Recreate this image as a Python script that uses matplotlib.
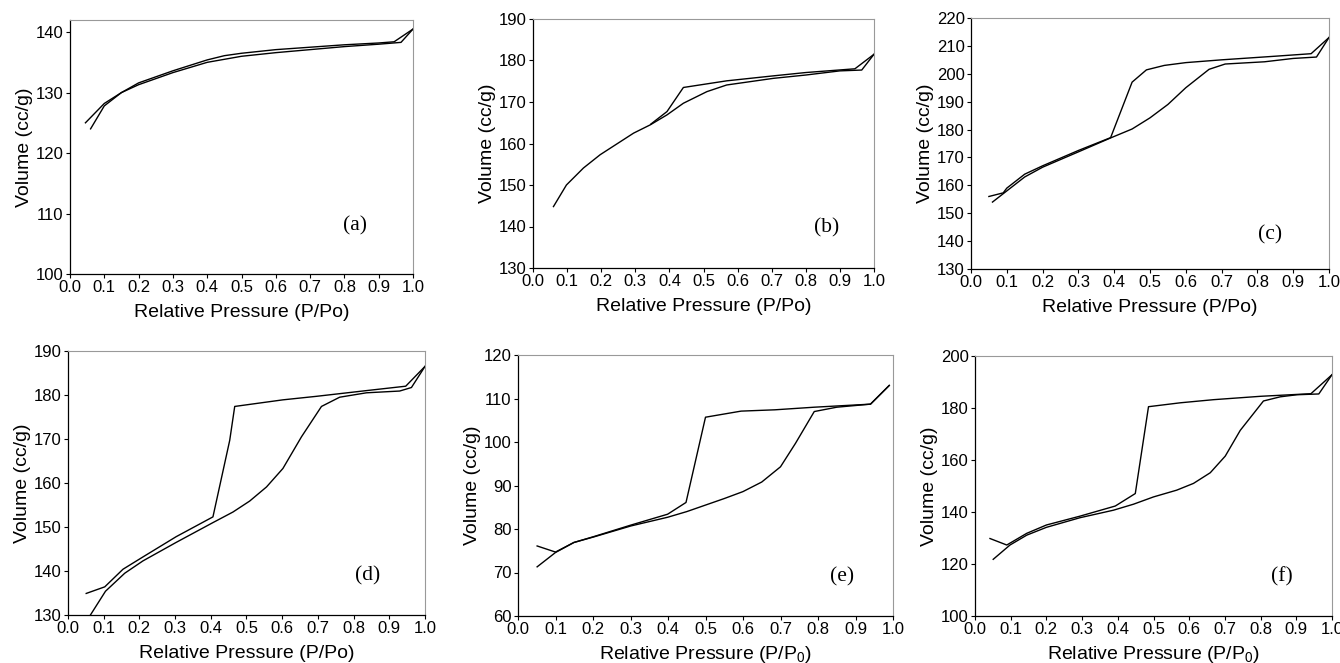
import matplotlib.pyplot as plt

plt.rcParams['font.family'] = ['Liberation Sans', 'DejaVu Sans']

# (a)
a_ads_x = [0.06, 0.1, 0.15, 0.2, 0.3, 0.4, 0.5, 0.6, 0.7, 0.8, 0.9, 0.965, 1.0]
a_ads_y = [124.0, 127.8, 130.0, 131.3, 133.3, 135.0, 136.0, 136.6, 137.1, 137.6, 138.0, 138.3, 140.5]
a_des_x = [1.0, 0.945, 0.9, 0.8, 0.7, 0.6, 0.5, 0.45, 0.4, 0.3, 0.2, 0.15, 0.1, 0.045]
a_des_y = [140.5, 138.4, 138.2, 137.9, 137.5, 137.1, 136.5, 136.1, 135.4, 133.6, 131.6, 130.0, 128.2, 125.0]

# (b)
b_ads_x = [0.06, 0.098, 0.148, 0.197, 0.295, 0.344, 0.393, 0.441, 0.51, 0.568, 0.705, 0.8, 0.9, 0.964, 1.0]
b_ads_y = [144.8, 150.0, 154.1, 157.3, 162.5, 164.5, 166.9, 169.7, 172.5, 174.1, 175.7, 176.5, 177.5, 177.7, 181.5]
b_des_x = [1.0, 0.944, 0.8, 0.705, 0.568, 0.441, 0.393, 0.346]
b_des_y = [181.5, 178.0, 177.1, 176.3, 175.1, 173.5, 167.7, 164.7]

# (c)
c_ads_x = [0.06, 0.1, 0.15, 0.2, 0.3, 0.39, 0.45, 0.5, 0.55, 0.6, 0.665, 0.71, 0.82, 0.9, 0.965, 1.0]
c_ads_y = [154.0, 158.0, 163.0, 166.5, 172.0, 177.0, 180.2, 184.2, 189.0, 195.0, 201.6, 203.5, 204.3, 205.5, 206.0, 213.0]
c_des_x = [1.0, 0.95, 0.85, 0.7, 0.6, 0.54, 0.49, 0.45, 0.39, 0.3, 0.2, 0.15, 0.1, 0.09, 0.05]
c_des_y = [213.0, 207.2, 206.3, 205.0, 204.0, 203.0, 201.4, 197.0, 177.1, 172.5, 167.0, 164.0, 159.0, 157.3, 156.0]

# (d)
d_ads_x = [0.055, 0.105, 0.159, 0.21, 0.303, 0.406, 0.462, 0.509, 0.556, 0.602, 0.654, 0.71, 0.761, 0.836, 0.929, 0.962, 1.0]
d_ads_y = [129.0, 135.4, 139.5, 142.3, 146.5, 151.0, 153.4, 155.9, 159.1, 163.3, 170.5, 177.4, 179.5, 180.5, 180.9, 181.7, 186.5]
d_des_x = [1.0, 0.946, 0.836, 0.696, 0.602, 0.467, 0.453, 0.406, 0.303, 0.21, 0.154, 0.103, 0.051]
d_des_y = [186.5, 182.0, 181.0, 179.7, 178.9, 177.4, 169.7, 152.3, 147.8, 143.2, 140.4, 136.4, 134.9]

# (e)
e_ads_x = [0.051, 0.1, 0.149, 0.203, 0.301, 0.399, 0.45, 0.5, 0.55, 0.6, 0.65, 0.7, 0.74, 0.79, 0.85, 0.94, 0.99]
e_ads_y = [71.3, 74.6, 76.9, 78.2, 80.7, 82.7, 84.0, 85.5, 87.0, 88.6, 90.8, 94.3, 99.7, 107.0, 108.0, 108.7, 113.0]
e_des_x = [0.99, 0.94, 0.79, 0.685, 0.595, 0.5, 0.448, 0.399, 0.301, 0.2, 0.149, 0.1, 0.051]
e_des_y = [113.0, 108.7, 108.0, 107.4, 107.1, 105.7, 86.1, 83.4, 80.9, 78.2, 76.9, 74.7, 76.1]

# (f)
f_ads_x = [0.051, 0.098, 0.145, 0.2, 0.294, 0.388, 0.444, 0.5, 0.565, 0.612, 0.659, 0.701, 0.743, 0.808, 0.855, 0.902, 0.963, 1.0]
f_ads_y = [121.8, 127.3, 131.1, 134.1, 137.8, 140.7, 143.0, 145.8, 148.4, 151.0, 155.1, 161.5, 171.4, 182.7, 184.3, 185.1, 185.4, 192.8]
f_des_x = [1.0, 0.941, 0.8, 0.668, 0.575, 0.486, 0.449, 0.393, 0.294, 0.2, 0.145, 0.089, 0.042]
f_des_y = [192.8, 185.5, 184.5, 183.2, 182.0, 180.5, 147.1, 142.3, 138.4, 135.0, 131.8, 127.3, 129.8]

panels = [
    ('(a)', a_ads_x, a_ads_y, a_des_x, a_des_y, (100, 142), range(100, 141, 10), 'P/Po'),
    ('(b)', b_ads_x, b_ads_y, b_des_x, b_des_y, (130, 190), range(130, 191, 10), 'P/Po'),
    ('(c)', c_ads_x, c_ads_y, c_des_x, c_des_y, (130, 220), range(130, 221, 10), 'P/Po'),
    ('(d)', d_ads_x, d_ads_y, d_des_x, d_des_y, (130, 190), range(130, 191, 10), 'P/Po'),
    ('(e)', e_ads_x, e_ads_y, e_des_x, e_des_y, (60, 120), range(60, 121, 10), 'P/P$_\\mathregular{0}$'),
    ('(f)', f_ads_x, f_ads_y, f_des_x, f_des_y, (100, 200), range(100, 201, 20), 'P/P$_\\mathregular{0}$'),
]

# axes boxes in pixels: left, top, right, bottom
boxes = [
    (70, 20, 413, 274),
    (533, 19, 874, 268),
    (971, 18, 1329, 269),
    (68, 351, 425, 615),
    (518, 355, 893, 616),
    (975, 356, 1332, 616),
]
label_pos = [(0.83, 0.19), (0.86, 0.16), (0.836, 0.135), (0.84, 0.15), (0.865, 0.15), (0.86, 0.15)]
xlabel_pad = [6.5, 6.5, 6.5, 6.5, 5, 5]

W, H = 1340, 663
fig = plt.figure(figsize=(W / 100, H / 100), dpi=100)

for (name, ax_, ay, dx, dy, ylim, yt, pp), (l, t, r, b), (lx, ly), xp in zip(
        panels, boxes, label_pos, xlabel_pad):
    ax = fig.add_axes([l / W, 1 - b / H, (r - l) / W, (b - t) / H])
    ax.plot(ax_, ay, color='black', lw=1.0)
    ax.plot(dx, dy, color='black', lw=1.0)
    ax.set_xlim(0, 1.0)
    ax.set_ylim(*ylim)
    ax.set_xticks([i / 10 for i in range(11)])
    ax.set_xticklabels([f'{i / 10:.1f}' for i in range(11)])
    ax.set_yticks(list(yt))
    ax.tick_params(direction='out', length=3, width=0.8, pad=1.5, labelsize=12,
                   top=False, right=False)
    for s in ('top', 'right'):
        ax.spines[s].set_color('#999999')
        ax.spines[s].set_linewidth(0.8)
    for s in ('left', 'bottom'):
        ax.spines[s].set_linewidth(0.9)
    ax.set_xlabel(f'Relative Pressure ({pp})', fontsize=14, labelpad=xp)
    ax.set_ylabel('Volume (cc/g)', fontsize=14, labelpad=2)
    ax.text(lx, ly, name, transform=ax.transAxes, family='Liberation Serif',
            fontsize=15.5, ha='center', va='center')

fig.savefig('out.png', dpi=100)
